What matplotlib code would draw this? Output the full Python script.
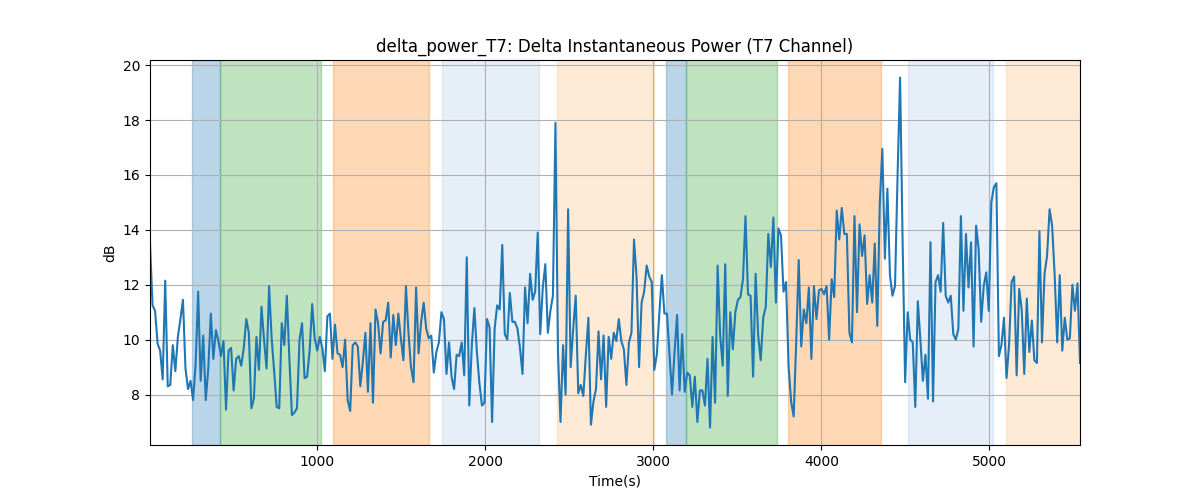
import numpy as np
import matplotlib
matplotlib.use("Agg")
import matplotlib.pyplot as plt

power_db = [
    13.5, 11.25, 11.05, 9.85, 9.6, 8.55, 12.15, 8.3, 8.35, 9.8, 8.85, 10.1, 10.75, 11.45, 8.95, 8.2,
    8.5, 7.8, 9.1, 11.75, 8.5, 10.15, 7.8, 8.95, 10.95, 9.3, 10.35, 9.95, 9.4, 9.95, 7.45, 9.6,
    9.7, 8.15, 9.3, 9.4, 9.05, 9.7, 10.75, 10.25, 7.5, 7.85, 10.1, 8.9, 11.2, 10.0,
    8.95, 11.95, 10.05, 8.85, 7.55, 7.5, 10.6, 9.8, 11.6, 9.3, 7.25, 7.35, 7.5, 10.0, 10.6, 8.6,
    8.65, 9.6, 11.3, 10.05, 9.6, 10.1, 9.7, 8.85, 10.85, 10.95, 9.3, 10.55, 9.5, 9.45, 9.0, 10.0,
    7.8, 7.4, 9.8, 9.9, 9.75, 8.3, 9.2, 10.25, 8.1, 10.6, 7.7, 11.1, 10.6, 9.5,
    10.65, 10.7, 11.35, 9.35, 10.9, 9.8, 10.95, 10.05, 9.25, 11.95, 10.25, 9.0, 8.45, 11.9, 9.5, 10.65,
    11.35, 10.4, 10.05, 10.15, 8.8, 9.55, 9.9, 11.0, 10.75, 8.75, 9.9, 8.65, 8.2, 9.45, 9.4, 9.9,
    8.7, 13.0, 7.6, 9.8, 11.15, 9.55, 8.4, 7.6, 7.7, 10.75, 10.45, 7.0, 10.4, 11.25,
    11.1, 13.45, 10.2, 10.0, 11.7, 10.65, 10.65, 10.4, 9.7, 8.75, 11.9, 10.6, 12.4, 11.45, 11.75, 13.9,
    10.2, 11.9, 12.75, 10.25, 11.05, 11.6, 17.9, 9.5, 7.0, 9.8, 8.0, 14.75, 9.0, 10.4, 11.6, 8.05,
    8.35, 7.95, 9.45, 10.8, 6.9, 7.75, 8.2, 10.3, 8.55, 10.15, 7.55, 10.1, 9.3, 10.25,
    9.95, 10.75, 9.95, 9.65, 8.35, 9.9, 10.25, 13.65, 12.3, 9.0, 11.35, 11.75, 12.7, 12.3, 12.1, 8.9,
    9.45, 10.95, 12.35, 10.95, 10.95, 9.45, 8.0, 9.55, 10.9, 8.15, 10.2, 8.1, 8.8, 8.7, 7.55, 8.65,
    7.0, 8.15, 8.15, 7.6, 9.3, 6.8, 10.1, 7.7, 12.7, 10.15, 9.05, 12.75, 7.95, 11.0,
    9.65, 11.0, 11.45, 11.55, 12.2, 14.5, 11.65, 11.6, 8.65, 12.4, 10.15, 9.25, 10.8, 11.2, 13.85, 12.65,
    14.45, 11.35, 14.05, 13.8, 11.75, 12.1, 9.0, 7.75, 7.2, 9.9, 12.9, 9.75, 11.1, 10.6, 11.9, 9.3,
    11.95, 10.75, 11.8, 11.85, 11.65, 11.95, 10.0, 12.2, 11.55, 14.7, 13.65, 14.8, 13.85, 13.85,
    10.25, 9.9, 14.5, 11.0, 14.2, 13.05, 13.8, 11.3, 12.35, 11.35, 13.5, 10.5, 15.0, 16.95, 12.95, 15.5,
    12.35, 11.6, 11.95, 15.95, 19.55, 13.55, 8.45, 11.0, 10.0, 9.9, 7.55, 11.4, 10.0, 8.5, 9.45, 7.85,
    13.55, 7.75, 12.1, 12.35, 11.75, 14.25, 11.6, 11.35, 11.6, 10.2, 10.0, 10.4, 14.5, 11.05,
    13.85, 11.9, 13.55, 9.75, 14.15, 13.3, 10.65, 11.95, 12.45, 11.05, 15.0, 15.55, 15.7, 9.4, 9.8, 10.8,
    8.6, 9.8, 12.1, 12.3, 8.7, 11.85, 11.1, 8.75, 11.5, 9.55, 10.7, 9.25, 9.15, 13.95, 9.9, 12.4,
    13.05, 14.75, 14.15, 12.35, 9.9, 12.35, 9.6, 10.8, 10.0, 10.05, 12.0, 11.05, 12.05, 9.15,
]
t_start = 5.0
t_step = 15.08

# shaded segments (start s, end s, colour)
seg_start = [256, 423, 1095, 1744, 2429, 3077, 3196, 3804, 4518, 5101]
seg_end = [423, 1024, 1667, 2321, 3006, 3196, 3738, 4357, 5024, 5542]
seg_color = ["tab:blue", "tab:green", "tab:orange", "#aec7e8", "#ffbb78",
             "tab:blue", "tab:green", "tab:orange", "#aec7e8", "#ffbb78"]

time_s = t_start + t_step * np.arange(len(power_db))

fig, ax = plt.subplots(figsize=(12, 5), dpi=100)
for s, e, c in zip(seg_start, seg_end, seg_color):
    ax.axvspan(s, e, color=c, alpha=0.3)
ax.plot(time_s, power_db, color="tab:blue", linewidth=1.5)
ax.set_xlim(time_s[0], time_s[-1])
ax.set_title("delta_power_T7: Delta Instantaneous Power (T7 Channel)")
ax.set_xlabel("Time(s)")
ax.set_ylabel("dB")
ax.grid(True)

fig.savefig("out.png")
